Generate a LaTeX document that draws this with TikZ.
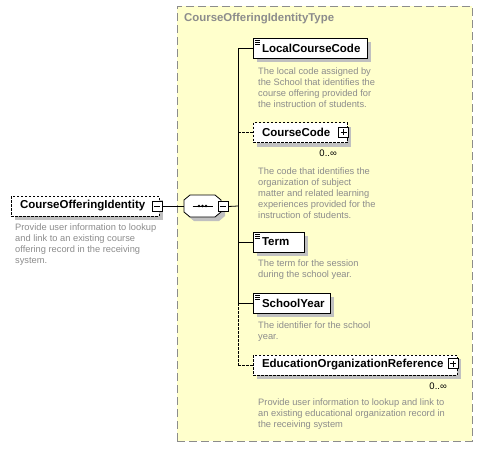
\documentclass[tikz,border=0pt]{standalone}
\usepackage{fontspec}
\setmainfont{Liberation Sans}
\usepackage{tikz}
\usetikzlibrary{shadows}
\definecolor{typefill}{RGB}{255,255,204}
\definecolor{typeline}{RGB}{140,140,140}
\definecolor{shadowgray}{RGB}{192,192,192}
\definecolor{descgray}{RGB}{140,140,140}
\hyphenpenalty=10000

\begin{document}
\begin{tikzpicture}[x=1pt, y=-1pt,
  boxshadow/.style={drop shadow={shadow xshift=4pt, shadow yshift=-4pt, fill=shadowgray, opacity=1}},
  elem/.style={draw, fill=white, boxshadow, line width=.8pt, minimum height=20pt,
    inner xsep=9pt, inner ysep=0pt, text width=#1, align=left,
    font=\fontsize{11.5}{13}\selectfont\bfseries},
  optelem/.style={elem=#1, dash pattern=on 2.5pt off 1.5pt},
  reqelem/.style={elem=#1, path picture={
      \foreach \d in {2,4,6}
        \draw [line width=.7pt] ([shift={(2pt,-\d pt)}]path picture bounding box.north west) -- ++(5pt,0pt);}},
  desc/.style={anchor=north west, inner sep=0pt, align=left, text=descgray,
    font=\fontsize{9.3}{10.9}\selectfont},
  mult/.style={anchor=north east, inner sep=0pt, font=\fontsize{9.5}{11}\selectfont},
  typebox/.style={draw=typeline, fill=typefill, line width=1pt, dash pattern=on 8pt off 4pt,
    minimum width=295pt, minimum height=435pt},
  typetitle/.style={anchor=west, inner sep=0pt, text=typeline,
    font=\fontsize{11.4}{13}\selectfont\bfseries},
  seqbox/.style={minimum width=37pt, minimum height=22pt, inner sep=0pt},
  seqshape/.style={line width=.8pt, fill=white},
  pm/.style={draw, fill=white, line width=.8pt, minimum size=10pt, inner sep=0pt},
  minusbox/.style={pm, path picture={
      \draw [line width=.8pt] ([xshift=-3pt]path picture bounding box.center) -- ([xshift=3pt]path picture bounding box.center);}},
  plusbox/.style={pm, path picture={
      \draw [line width=.8pt] ([xshift=-3pt]path picture bounding box.center) -- ([xshift=3pt]path picture bounding box.center)
        ([yshift=-3pt]path picture bounding box.center) -- ([yshift=3pt]path picture bounding box.center);}},
  link/.style={line width=.8pt},
  optlink/.style={link, dash pattern=on 2.5pt off 1.5pt}]

  \useasboundingbox (0,0) rectangle (484,448);

  \node [typebox, name=ctype] at (324.5,223.5) {};
  \node [typetitle, name=ctitle] at (184,19) {CourseOfferingIdentityType};

  \node [optelem=130pt, name=root] at (85,206) {CourseOfferingIdentity};
  \node [minusbox, name=rootpm] at (157,206.5) {};
  \node [desc, name=rootdesc] at (15,224)
    {Provide user information to lookup\\and link to an existing course\\offering record in the receiving\\system.};

  \fill [shadowgray, transform canvas={shift={(4pt,-4pt)}}]
    (184,200) -- (190,195) -- (215,195) -- (221,200) -- (221,212) -- (215,217) -- (190,217) -- (184,212) -- cycle;
  \filldraw [seqshape]
    (184,200) -- (190,195) -- (215,195) -- (221,200) -- (221,212) -- (215,217) -- (190,217) -- (184,212) -- cycle;
  \node [seqbox, name=seq] at (202.5,206) {};
  \draw [line width=.7pt] ([xshift=-10pt]seq.center) -- ([xshift=10pt]seq.center);
  \foreach \d in {-3.5,0,3.5}
    \fill ([xshift=\d pt]seq.center) circle (1.3pt);
  \node [minusbox, name=seqpm] at (223,206.5) {};
  \coordinate (trunk) at (238,206);

  \node [reqelem=96pt, name=lcc] at (310,48) {LocalCourseCode};
  \node [desc, name=lccdesc] at (258,68)
    {The local code assigned by\\the School that identifies the\\course offering provided for\\the instruction of students.};

  \node [optelem=76pt, name=cc] at (300,132.5) {CourseCode};
  \node [plusbox, name=ccpm] at (343.5,132) {};
  \node [mult, name=ccmult] at (337,150) {0..∞};
  \node [desc, name=ccdesc] at (258,168)
    {The code that identifies the\\organization of subject\\matter and related learning\\experiences provided for the\\instruction of students.};

  \node [reqelem=33pt, name=term] at (278.5,242) {Term};
  \node [desc, name=termdesc] at (258,260)
    {The term for the session\\during the school year.};

  \node [reqelem=59pt, name=sy] at (291.5,303) {SchoolYear};
  \node [desc, name=sydesc] at (258,322)
    {The identifier for the school\\year.};

  \node [optelem=186pt, name=eor] at (355,365) {EducationOrganizationReference};
  \node [plusbox, name=eorpm] at (453,363.5) {};
  \node [mult, name=eormult] at (447,383) {0..∞};
  \node [desc, name=eordesc] at (258,399)
    {Provide user information to lookup and link to\\an existing educational organization record in\\the receiving system};

  \draw [link] (rootpm.east) -- (seq.west |- rootpm.east);
  \draw [link] (seqpm.east) -- (trunk);
  \draw [link] (lcc.west -| trunk) -- (sy.west -| trunk);
  \draw [optlink] (sy.west -| trunk) -- (eor.west -| trunk);
  \draw [link] (lcc.west -| trunk) -- (lcc.west);
  \draw [optlink] (cc.west -| trunk) -- (cc.west);
  \draw [link] (term.west -| trunk) -- (term.west);
  \draw [link] (sy.west -| trunk) -- (sy.west);
  \draw [optlink] (eor.west -| trunk) -- (eor.west);

\end{tikzpicture}
\end{document}
